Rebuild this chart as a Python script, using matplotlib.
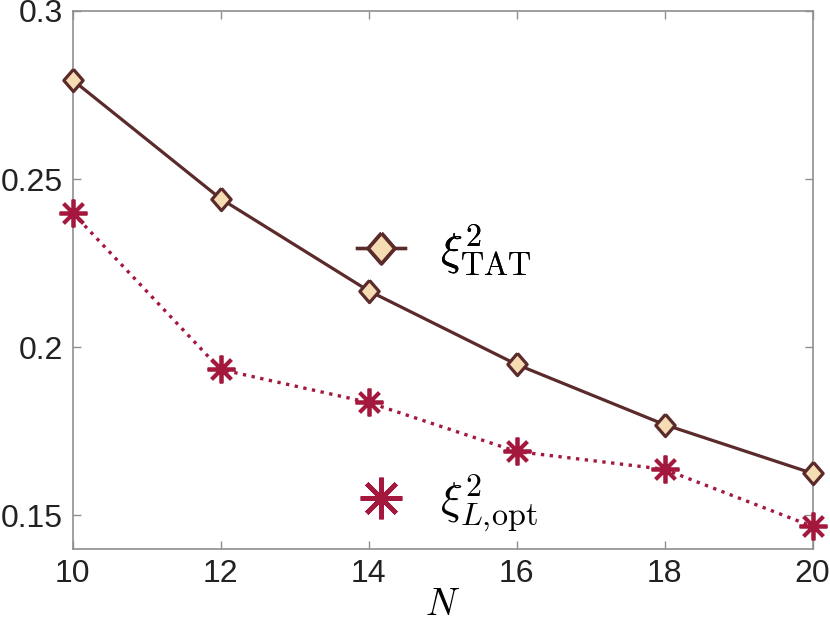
import matplotlib
matplotlib.use("Agg")
import matplotlib.pyplot as plt
from matplotlib.lines import Line2D
from matplotlib.ticker import FixedLocator, FixedFormatter

plt.rcParams['mathtext.fontset'] = 'cm'
plt.rcParams['font.family'] = ['Liberation Sans', 'DejaVu Sans']

N_vals = [10, 12, 14, 16, 18, 20]
xi_tat = [0.2795, 0.2442, 0.2168, 0.1949, 0.1770, 0.1625]
xi_lopt = [0.2400, 0.1934, 0.1836, 0.1690, 0.1637, 0.1467]

x_ticks = [10, 12, 14, 16, 18, 20]
y_ticks = [0.15, 0.2, 0.25, 0.3]
y_tick_labels = ['0.15', '0.2', '0.25', '0.3']

c_tat = '#5b2b2b'
c_tat_face = '#f6dcb2'
c_opt = '#a3183c'
spine_c = '#8f8f8f'

diamond = [(0, 1), (0.87, 0), (0, -1), (-0.87, 0), (0, 1)]
star8 = (8, 2, 0)

fig = plt.figure(figsize=(8.3, 6.23), dpi=100)
ax = fig.add_axes([72.5 / 830, (623 - 549) / 623, 740 / 830, 538 / 623])

ax.plot(N_vals, xi_tat, '-', color=c_tat, lw=2.3, marker=diamond, ms=16,
        mfc=c_tat_face, mec=c_tat, mew=2.3, zorder=3, clip_on=False)
ax.plot(N_vals, xi_lopt, ':', color=c_opt, lw=2.4, marker=star8, ms=20,
        mec=c_opt, mew=2.7, zorder=3, clip_on=False)

ax.set_xlim(10, 20)
ax.set_ylim(0.14, 0.3)
ax.xaxis.set_major_locator(FixedLocator(x_ticks))
ax.yaxis.set_major_locator(FixedLocator(y_ticks))
ax.yaxis.set_major_formatter(FixedFormatter(y_tick_labels))
ax.tick_params(direction='in', length=6, width=1, color=spine_c,
               labelsize=23, labelcolor='#222222', pad=7,
               top=True, right=True)
for s in ax.spines.values():
    s.set_color(spine_c)
    s.set_linewidth(1.2)

ax.set_xlabel('$N$', fontsize=27, labelpad=-1)

h1 = Line2D([], [], color=c_tat, lw=2.4, marker=diamond, ms=22,
            mfc=c_tat_face, mec=c_tat, mew=2.6)
h2 = Line2D([], [], color=c_opt, lw=0, marker=star8, ms=30,
            mec=c_opt, mew=3.3)

leg1 = fig.legend([h1], [r'$\xi^2_{\mathrm{TAT}}$'], loc='center left',
                  bbox_to_anchor=(357 / 830, 1 - 250 / 623), frameon=False,
                  fontsize=33, borderpad=0, borderaxespad=0,
                  handlelength=1.05, handletextpad=0.75)
leg2 = fig.legend([h2], [r'$\xi^2_{L,\!\mathrm{opt}}$'], loc='center left',
                  bbox_to_anchor=(357 / 830, 1 - 503 / 623), frameon=False,
                  fontsize=33, borderpad=0, borderaxespad=0,
                  handlelength=1.05, handletextpad=0.75)
fig.add_artist(leg1)

fig.savefig('out.png', dpi=100)
